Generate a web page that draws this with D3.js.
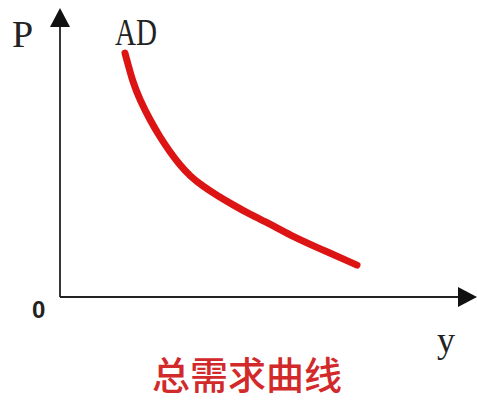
<!DOCTYPE html>
<html>
<head>
<meta charset="utf-8">
<script src="https://cdn.jsdelivr.net/npm/d3@7"></script>
<style>
  body { margin: 0; background: #fff; }
  svg { display: block; }
</style>
</head>
<body>
<svg width="477" height="400"></svg>
<script>
// DATA (price level P vs output y)
var adY = [16.25, 18.25, 20, 22.5, 25, 27.5, 30, 32.5, 35.75, 39.25, 43.25, 47.5, 52.5, 57.5, 64.25, 74.25];
var adP = [87.1, 76.4, 70.4, 63.2, 57.1, 51.8, 47.1, 43.2, 39.5, 36.3, 32.9, 29.5, 26.1, 22.1, 17.7, 11.4];
var curveLabel = "AD";
var xLabel = "y", yLabel = "P", originLabel = "0";
var title = "总需求曲线";

var svg = d3.select("svg"),
    width = +svg.attr("width"),
    height = +svg.attr("height");

var x = d3.scaleLinear().domain([0, 100]).range([60, 460]);
var y = d3.scaleLinear().domain([0, 100]).range([297, 17]);

// ARROW HEADS
var defs = svg.append("defs");
defs.append("marker")
    .attr("id", "arrow")
    .attr("viewBox", "0 0 20 20")
    .attr("refX", 0).attr("refY", 10)
    .attr("markerWidth", 20).attr("markerHeight", 20)
    .attr("markerUnits", "userSpaceOnUse")
    .attr("orient", "auto")
  .append("path")
    .attr("d", "M0,0L19,10L0,20Z")
    .attr("fill", "#111");

// AXES
svg.append("g")
    .attr("transform", "translate(0," + y(0) + ")")
    .call(d3.axisBottom(x).tickValues([]).tickSizeOuter(0))
    .call(function(g) {
      g.select(".domain").attr("stroke", "#222").attr("stroke-width", 1.8)
          .attr("d", "M" + x(0) + ",0H" + (x(100) - 2))
          .attr("marker-end", "url(#arrow)");
    });

svg.append("g")
    .attr("transform", "translate(" + x(0) + ",0)")
    .call(d3.axisLeft(y).tickValues([]).tickSizeOuter(0))
    .call(function(g) {
      g.select(".domain").attr("stroke", "#222").attr("stroke-width", 1.8)
          .attr("d", "M0," + y(0) + "V" + (y(100) + 10))
          .attr("marker-end", "url(#arrow)");
    });

// AD CURVE
var line = d3.line()
    .x(function(d) { return x(d[0]); })
    .y(function(d) { return y(d[1]); })
    .curve(d3.curveBasis);

svg.append("path")
    .datum(d3.zip(adY, adP))
    .attr("d", line)
    .attr("fill", "none")
    .attr("stroke", "#dd1414")
    .attr("stroke-width", 7)
    .attr("stroke-linecap", "round");

// LABELS
var serif = "'Liberation Serif', 'DejaVu Serif', serif";

svg.append("text")
    .attr("x", 12).attr("y", 47)
    .attr("font-family", serif).attr("font-size", 38)
    .attr("fill", "#222")
    .text(yLabel);

svg.append("text")
    .attr("x", 115).attr("y", 45)
    .attr("font-family", serif).attr("font-size", 38)
    .attr("textLength", 42).attr("lengthAdjust", "spacingAndGlyphs")
    .attr("fill", "#222")
    .text(curveLabel);

svg.append("text")
    .attr("x", 32).attr("y", 318)
    .attr("font-family", "'Liberation Sans', Arial, sans-serif")
    .attr("font-size", 24).attr("font-weight", "bold")
    .attr("fill", "#222")
    .text(originLabel);

svg.append("text")
    .attr("x", 437).attr("y", 352)
    .attr("font-family", serif).attr("font-size", 36)
    .attr("fill", "#222")
    .text(xLabel);

svg.append("text")
    .attr("x", 247).attr("y", 389)
    .attr("text-anchor", "middle")
    .attr("font-family", "'Noto Sans CJK SC', sans-serif")
    .attr("font-size", 38).attr("font-weight", 500)
    .attr("fill", "#d22a2a")
    .text(title);
</script>
</body>
</html>
